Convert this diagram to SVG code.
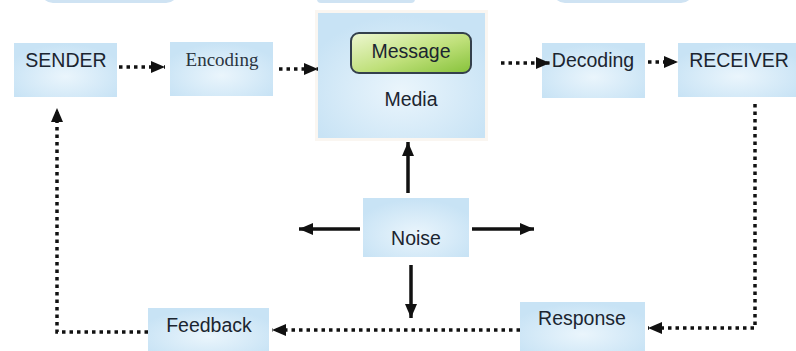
<svg xmlns="http://www.w3.org/2000/svg" width="796" height="351" viewBox="0 0 796 351">
<defs>
<radialGradient id="boxg" cx="50%" cy="62%" r="60%">
<stop offset="0" stop-color="#eaf5fc"/>
<stop offset="1" stop-color="#c8e3f5"/>
</radialGradient>
<linearGradient id="msgg" x1="0" y1="0" x2="1" y2="1">
<stop offset="0" stop-color="#eef7d2"/>
<stop offset="0.55" stop-color="#bfe07a"/>
<stop offset="1" stop-color="#86c23a"/>
</linearGradient>
<marker id="ah" markerUnits="userSpaceOnUse" markerWidth="16" markerHeight="14" refX="14" refY="6" orient="auto">
<path d="M0,0 L14,6 L0,12 z" fill="#111"/>
</marker>
<marker id="dh" markerUnits="userSpaceOnUse" markerWidth="16" markerHeight="14" refX="14" refY="6" orient="auto">
<path d="M0,0 L14,6 L0,12 z" fill="#111"/>
</marker>
</defs>
<style>
.box{fill:url(#boxg);}
.t{font-family:"Liberation Sans",Arial,sans-serif;font-size:19.5px;fill:#1b2530;text-anchor:middle;}
.ts{font-family:"Liberation Serif","Times New Roman",serif;font-size:19px;fill:#2a3440;text-anchor:middle;}
.dot{fill:none;stroke:#111;stroke-width:3.5;stroke-dasharray:3.5 4;marker-end:url(#dh);}
.sol{fill:none;stroke:#111;stroke-width:3.5;marker-end:url(#ah);}
.top{fill:#cfe3f3;}
</style>
<rect width="796" height="351" fill="#ffffff"/>
<g id="top-fragments">
<rect class="top" x="41" y="-20" width="137" height="23" rx="12"/>
<rect class="top" x="317" y="-20" width="98" height="23" rx="4"/>
<rect class="top" x="553" y="-20" width="140" height="23" rx="12"/>
</g>
<g id="sender"><rect class="box" x="14" y="43" width="103" height="54"/><text class="t" x="66" y="67">SENDER</text></g>
<g id="encoding"><rect class="box" x="170" y="42" width="103" height="54"/><text class="ts" x="222" y="66">Encoding</text></g>
<g id="media">
<rect x="318" y="13" width="167" height="125" fill="none" stroke="#faf6f1" stroke-width="6"/>
<rect class="box" x="318" y="13" width="167" height="125"/>
<g id="message"><rect x="351" y="33" width="120" height="40" rx="8" fill="url(#msgg)" stroke="#34404c" stroke-width="2"/><text class="t" x="411" y="58">Message</text></g>
<text class="t" x="411" y="106">Media</text>
</g>
<g id="decoding"><rect class="box" x="542" y="43" width="103" height="55"/><text class="t" x="593" y="67">Decoding</text></g>
<g id="receiver"><rect class="box" x="678" y="43" width="120" height="54"/><text class="t" x="739" y="67">RECEIVER</text></g>
<g id="noise"><rect class="box" x="363" y="198" width="106" height="59"/><text class="t" x="416" y="245">Noise</text></g>
<g id="response"><rect class="box" x="520" y="302" width="125" height="52"/><text class="t" x="582" y="325">Response</text></g>
<g id="feedback"><rect class="box" x="148" y="308" width="121" height="46"/><text class="t" x="209" y="332">Feedback</text></g>
<g id="connectors">
<path class="dot" d="M119,67 L165,67"/>
<path class="dot" d="M279,69 L318,69"/>
<path class="dot" d="M501,63 L550,63"/>
<path class="dot" d="M648,62 L678,62"/>
<path class="dot" d="M755,104 L755,328 L648,328"/>
<path class="dot" d="M520,330 L272,330"/>
<path class="dot" d="M148,332 L57,332 L57,108"/>
<path class="sol" d="M408,193 L408,142"/>
<path class="sol" d="M411,265 L411,318"/>
<path class="sol" d="M360,229 L299,229"/>
<path class="sol" d="M472,229 L534,229"/>
</g>
</svg>
